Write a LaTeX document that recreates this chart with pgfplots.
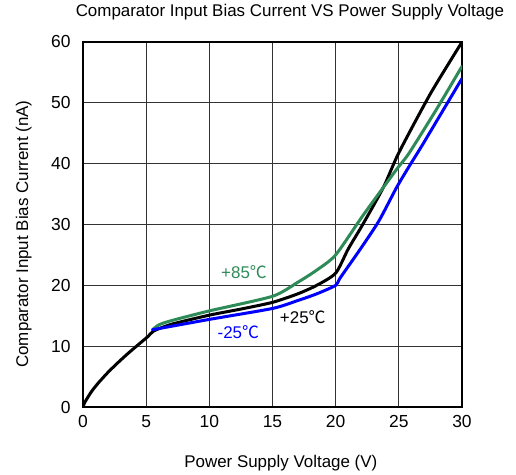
\documentclass[border=0pt]{standalone}
\usepackage{fontspec}
\setmainfont{Liberation Sans}
\newfontfamily\cjk{Noto Sans CJK SC}
\usepackage{pgfplots}
\pgfplotsset{compat=1.18}
\definecolor{cgreen}{RGB}{46,139,87}
\definecolor{cblue}{RGB}{0,0,255}
\begin{document}
\begin{tikzpicture}[font=\fontsize{17}{20}\selectfont]
\path[use as bounding box] (-83bp,-68bp) rectangle (433bp,407bp);
\begin{axis}[
  at={(0,0)}, anchor=south west,
  scale only axis, width=379bp, height=365bp,
  xmin=0, xmax=30, ymin=0, ymax=60,
  xtick={0,5,...,30}, ytick={0,10,...,60},
  grid=major,
  major grid style={draw=black!80, line width=0.9bp},
  axis line style={draw=black, line width=1.1bp},
  tick style={draw=none},
  /pgf/number format/assume math mode=true,
  ticklabel style={font=\fontsize{17.5}{20}\selectfont},
  xticklabel style={yshift=-5bp},
  yticklabel style={xshift=-9bp},
  title={Comparator Input Bias Current VS Power Supply Voltage},
  title style={at={(axis description cs:0.546,1.0534)}, anchor=base, font=\fontsize{17}{20}\selectfont},
  xlabel={Power Supply Voltage (V)},
  xlabel style={at={(axis description cs:0.522,-0.167)}, anchor=base, font=\fontsize{17}{20}\selectfont},
  ylabel={Comparator Input Bias Current (nA)},
  ylabel style={at={(axis description cs:-0.145,0.474)}, anchor=base, font=\fontsize{17}{20}\selectfont},
  every axis plot/.append style={line width=3bp, line join=round, line cap=round},
]
% +25 C
\addplot[black, smooth, tension=0.4] coordinates {
(0,0) (0.15,0.8) (0.66,2.5) (1.19,3.9) (1.98,5.7) (2.77,7.3) (3.56,8.8)
(4.35,10.2) (5.15,11.6) (5.6,12.5) (7,13.6) (10,15.1) (12.5,16.1) (15,17.2)
(17,18.6) (18.5,20) (20,22) (21,26) (22.2,30.2) (23.8,36.2) (25,41.8)
(27.5,51.5) (30,60)};
% +85 C
\addplot[cgreen, smooth, tension=0.4] coordinates {
(5.5,12.7) (6,13.5) (7,14.2) (10,15.8) (15,18.2) (17,20.5) (18.5,22.5)
(20,25) (22.2,31.6) (24.8,39) (25.8,41.7) (28,49) (30,56)};
% -25 C
\addplot[cblue, smooth, tension=0.4] coordinates {
(5.5,12.7) (10,14.4) (15,16.2) (17,17.5) (18.5,18.6) (20,20) (20.35,21.2)
(21.9,25.8) (23.4,30.5) (24.8,36) (25.8,39.5) (26.9,43.2) (30,54)};
\node[text=cgreen] at (axis cs:12.75,22.2) {+85{\cjk ℃}};
\node[text=cblue] at (axis cs:12.3,12.3) {-25{\cjk ℃}};
\node[text=black] at (axis cs:17.4,14.8) {+25{\cjk ℃}};
\end{axis}
\end{tikzpicture}
\end{document}
